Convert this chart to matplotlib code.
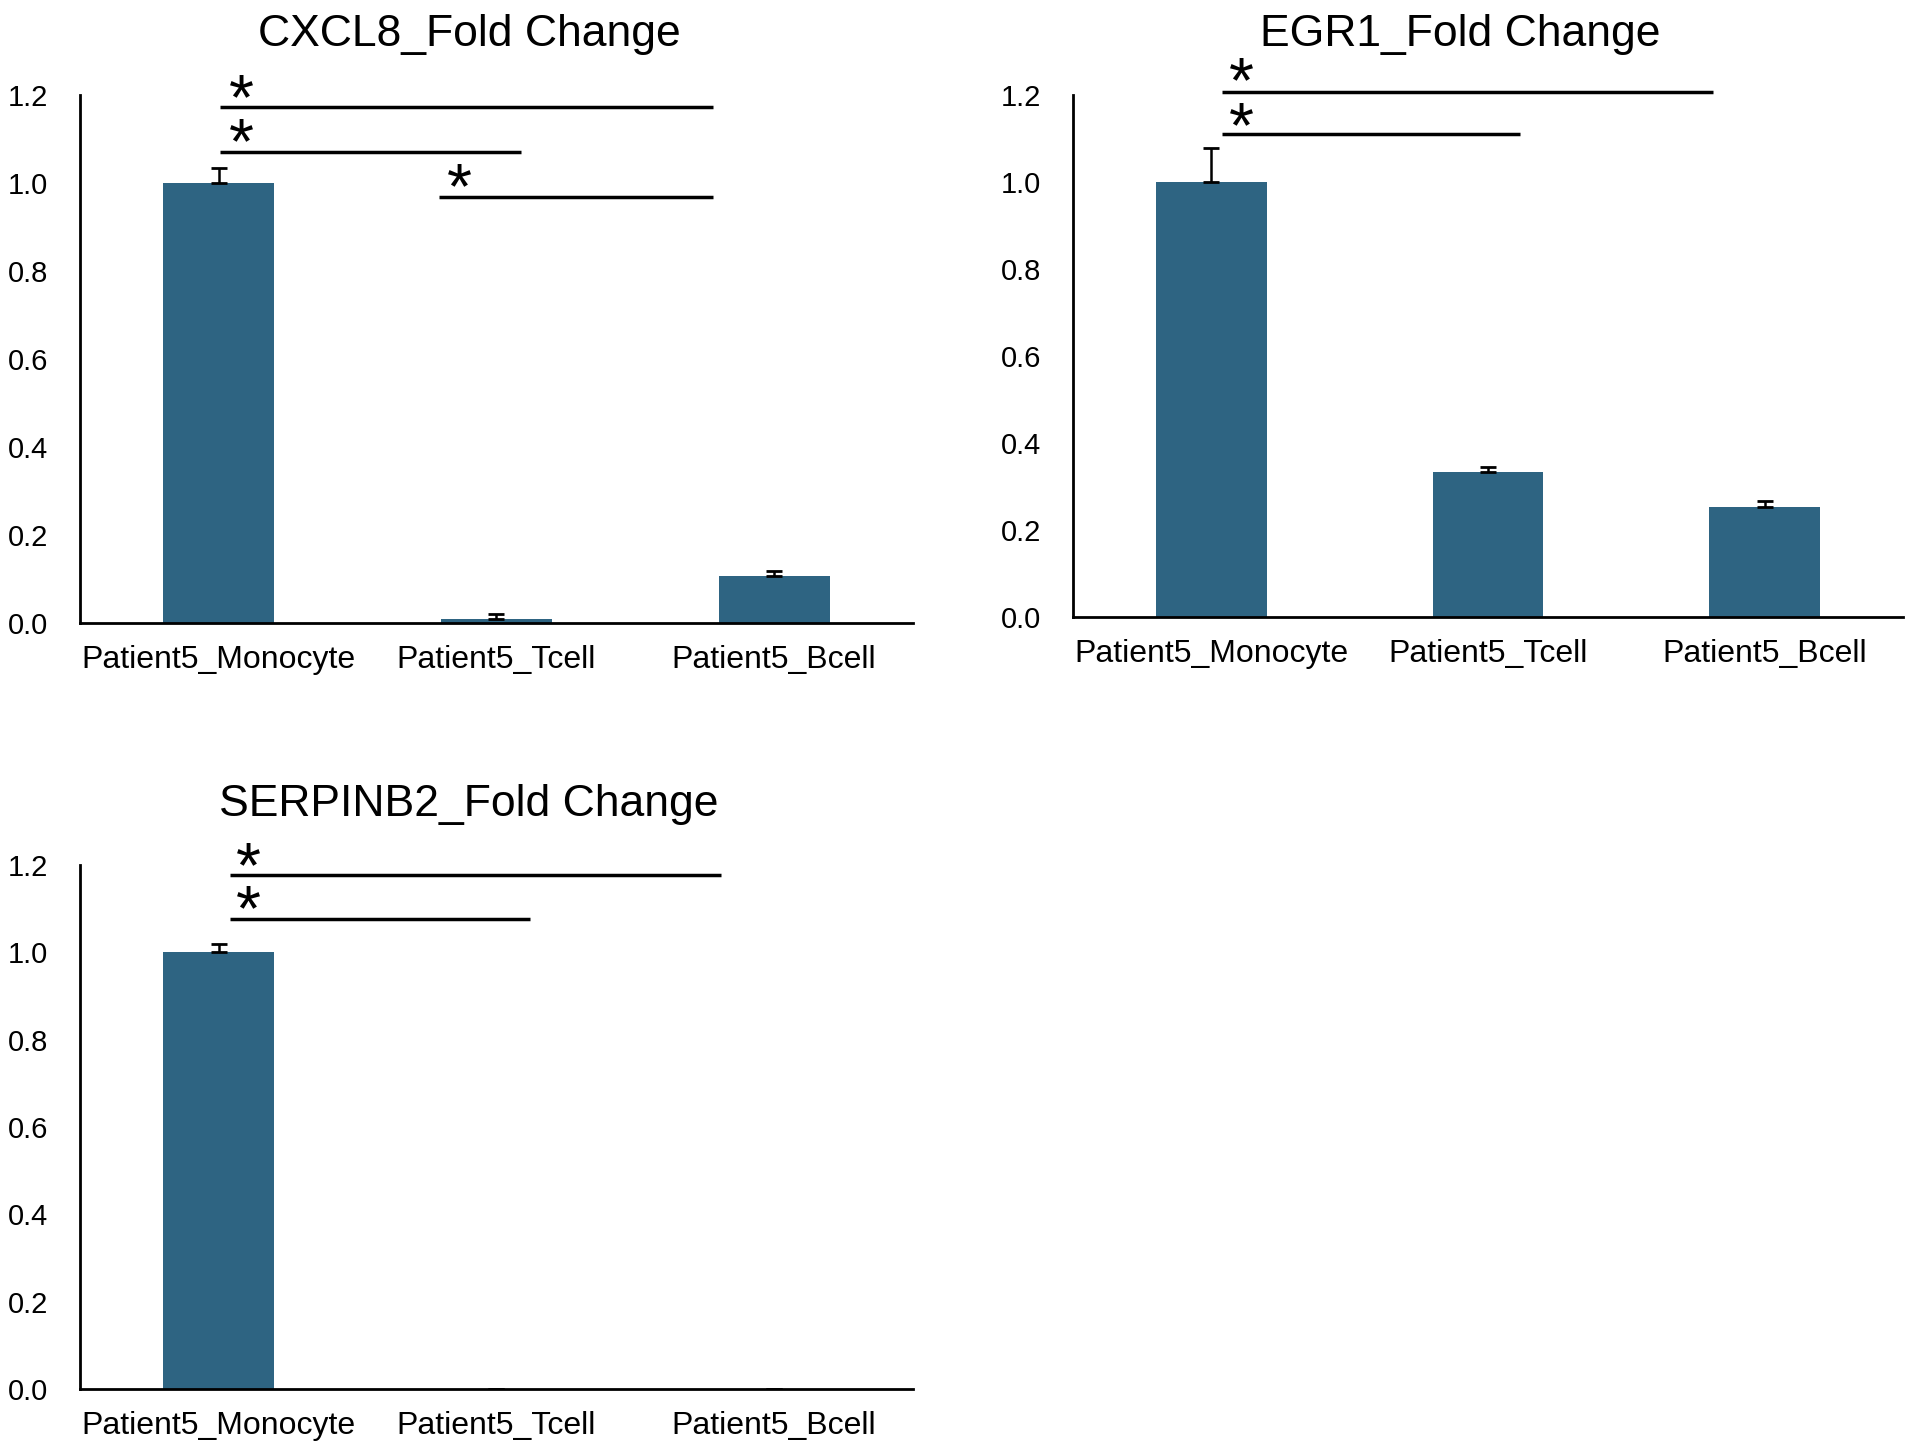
import numpy as np
import matplotlib
matplotlib.use("Agg")
import matplotlib.pyplot as plt
from matplotlib.font_manager import FontProperties

plt.rcParams["font.family"] = ["Liberation Sans", "DejaVu Sans"]

categories = ["Patient5_Monocyte", "Patient5_Tcell", "Patient5_Bcell"]

cxcl8_mean = [1.0, 0.008, 0.107]
cxcl8_err = [0.034, 0.012, 0.011]

egr1_mean = [1.0, 0.333, 0.254]
egr1_err = [0.079, 0.012, 0.012]

serpinb2_mean = [1.0, 0.0, 0.0]
serpinb2_err = [0.02, 0.0, 0.0]

# significance lines: (x start, x end, y)
cxcl8_lines = [(0.004, 1.78, 1.172), (0.004, 1.088, 1.071), (0.793, 1.78, 0.969)]
egr1_lines = [(0.039, 1.815, 1.208), (0.039, 1.117, 1.111)]
serpinb2_lines = [(0.039, 1.81, 1.177), (0.039, 1.12, 1.076)]

# asterisks: (x, [y of each star centre, top first])
cxcl8_stars = [(0.08, [1.214, 1.115]), (0.865, [1.013])]
egr1_stars = [(0.108, [1.254, 1.15])]
serpinb2_stars = [(0.105, [1.22, 1.12])]

yticks = [0.0, 0.2, 0.4, 0.6, 0.8, 1.0, 1.2]

bar_color = "#2E6482"
star_fs = 46

W, H = 1916, 1452
fig = plt.figure(figsize=(W / 100, H / 100), dpi=100)
renderer = fig.canvas.get_renderer()
star_font = FontProperties(family=["Liberation Sans"], size=star_fs)
_, lp_h, lp_d = renderer.get_text_width_height_descent("lp", star_font, ismath=False)


def px_axes(left, top, right, bottom):
    return fig.add_axes([left / W, 1 - bottom / H, (right - left) / W, (bottom - top) / H])


def draw_panel(ax, title, means, errs, lines, stars):
    x = np.arange(len(categories))
    lower = np.zeros(len(means))
    ax.bar(x, means, width=0.4, color=bar_color, zorder=2)
    ax.errorbar(x, means, yerr=[lower, errs], fmt="none", ecolor="black",
                elinewidth=1.8, capsize=5.5, capthick=2.0, zorder=3)
    ax.set_xlim(-0.5, 2.5)
    ax.set_ylim(0, 1.2)
    ax.set_yticks(yticks)
    ax.set_yticklabels([f"{v:.1f}" for v in yticks], fontsize=21)
    ax.set_xticks(x)
    ax.set_xticklabels(categories, fontsize=23)
    ax.tick_params(axis="y", length=0, pad=23)
    ax.tick_params(axis="x", length=0, pad=16)
    for s in ["top", "right"]:
        ax.spines[s].set_visible(False)
    for s in ["left", "bottom"]:
        ax.spines[s].set_linewidth(2.0)
    for x1, x2, y in lines:
        ax.plot([x1, x2], [y, y], color="black", lw=2.5, clip_on=False,
                solid_capstyle="butt")
    # stacked stars go in one text so the rows sit at the right distance
    for sx, ys in stars:
        ls = 1.0
        if len(ys) > 1:
            y0 = ax.transData.transform((sx, ys[0]))[1]
            y1 = ax.transData.transform((sx, ys[1]))[1]
            ls = ((y0 - y1) - lp_d) / (lp_h - lp_d)
        # baseline alignment anchors the last row
        ax.annotate("\n".join(["*"] * len(ys)), xy=(sx, ys[-1]),
                    xytext=(0, -0.48 * star_fs), textcoords="offset points",
                    ha="center", va="baseline", fontsize=star_fs,
                    linespacing=ls, annotation_clip=False)
    ax.text(0.467, 1.115, title, transform=ax.transAxes, ha="center",
            va="center", fontsize=32)


ax1 = px_axes(80, 95, 913, 623)
draw_panel(ax1, "CXCL8_Fold Change", cxcl8_mean, cxcl8_err, cxcl8_lines, cxcl8_stars)

ax2 = px_axes(1073, 95, 1903, 617)
draw_panel(ax2, "EGR1_Fold Change", egr1_mean, egr1_err, egr1_lines, egr1_stars)

ax3 = px_axes(80, 865, 913, 1389)
draw_panel(ax3, "SERPINB2_Fold Change", serpinb2_mean, serpinb2_err,
           serpinb2_lines, serpinb2_stars)

fig.savefig("out.png", dpi=100, facecolor="white")
